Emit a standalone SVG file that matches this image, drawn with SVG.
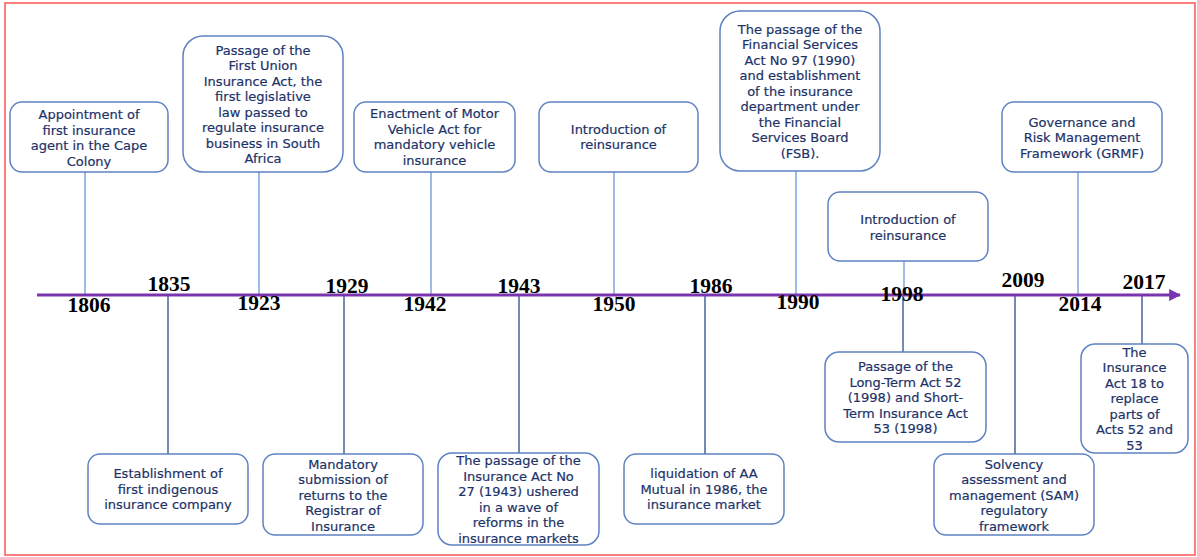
<svg xmlns="http://www.w3.org/2000/svg" width="1197" height="557" viewBox="0 0 1197 557">
<defs>
<marker id="arr" viewBox="0 0 10 10" refX="9" refY="5" markerWidth="4" markerHeight="4" markerUnits="strokeWidth" orient="auto">
<path d="M0,0 L10,5 L0,10 z" fill="#7a34b0"/>
</marker>
<style>
.box{fill:#fff;stroke:#5f83c2;stroke-width:1.5}
.t{font-family:"DejaVu Sans",sans-serif;font-size:13px;fill:#1c3268;stroke:#1c3268;stroke-width:0.2;text-anchor:middle}
.yr{font-family:"Liberation Serif",serif;font-weight:bold;font-size:20px;fill:#000;text-anchor:middle}
.up{stroke:#7ea6dc;stroke-width:1.5}
.dn{stroke:#44649a;stroke-width:1.5}
</style>
</defs>
<rect x="5" y="3" width="1190" height="552" fill="#fff" stroke="#ff5555" stroke-width="1.5"/>

<g id="connectors">
<line class="up" x1="85" y1="172" x2="85" y2="295"/>
<line class="up" x1="259" y1="172" x2="259" y2="295"/>
<line class="up" x1="431" y1="172" x2="431" y2="295"/>
<line class="up" x1="614" y1="172" x2="614" y2="295"/>
<line class="up" x1="796" y1="171" x2="796" y2="295"/>
<line class="up" x1="904" y1="261" x2="904" y2="295"/>
<line class="up" x1="1078" y1="172" x2="1078" y2="295"/>
<line class="dn" x1="168" y1="295" x2="168" y2="454"/>
<line class="dn" x1="344" y1="295" x2="344" y2="454"/>
<line class="dn" x1="519" y1="295" x2="519" y2="453"/>
<line class="dn" x1="705" y1="295" x2="705" y2="454"/>
<line class="dn" x1="903" y1="295" x2="903" y2="352"/>
<line class="dn" x1="1015" y1="295" x2="1015" y2="454"/>
<line class="dn" x1="1142" y1="295" x2="1142" y2="344"/>
</g>

<g id="timeline">
<line x1="37" y1="295" x2="1180" y2="295" stroke="#7a34b0" stroke-width="3" marker-end="url(#arr)"/>
</g>

<g id="years">
<text class="yr" x="89" y="312" textLength="43" lengthAdjust="spacingAndGlyphs">1806</text>
<text class="yr" x="169" y="291" textLength="43" lengthAdjust="spacingAndGlyphs">1835</text>
<text class="yr" x="259" y="310" textLength="43" lengthAdjust="spacingAndGlyphs">1923</text>
<text class="yr" x="347" y="293" textLength="43" lengthAdjust="spacingAndGlyphs">1929</text>
<text class="yr" x="425" y="311" textLength="43" lengthAdjust="spacingAndGlyphs">1942</text>
<text class="yr" x="519" y="293" textLength="43" lengthAdjust="spacingAndGlyphs">1943</text>
<text class="yr" x="614" y="311" textLength="43" lengthAdjust="spacingAndGlyphs">1950</text>
<text class="yr" x="711" y="293" textLength="43" lengthAdjust="spacingAndGlyphs">1986</text>
<text class="yr" x="798" y="309" textLength="43" lengthAdjust="spacingAndGlyphs">1990</text>
<text class="yr" x="902" y="301" textLength="43" lengthAdjust="spacingAndGlyphs">1998</text>
<text class="yr" x="1023" y="287" textLength="43" lengthAdjust="spacingAndGlyphs">2009</text>
<text class="yr" x="1080" y="311" textLength="43" lengthAdjust="spacingAndGlyphs">2014</text>
<text class="yr" x="1144" y="289" textLength="43" lengthAdjust="spacingAndGlyphs">2017</text>
</g>

<g id="n1806">
<rect class="box" x="10" y="102" width="158" height="70" rx="12"/>
<text class="t" x="89" y="119">Appointment of</text>
<text class="t" x="89" y="134.5">first insurance</text>
<text class="t" x="89" y="150">agent in the Cape</text>
<text class="t" x="89" y="165.5">Colony</text>
</g>

<g id="n1923">
<rect class="box" x="183" y="36" width="160" height="136" rx="20"/>
<text class="t" x="263" y="54.5">Passage of the</text>
<text class="t" x="263" y="70">First Union</text>
<text class="t" x="263" y="85.5">Insurance Act, the</text>
<text class="t" x="263" y="101">first legislative</text>
<text class="t" x="263" y="116.5">law passed to</text>
<text class="t" x="263" y="132">regulate insurance</text>
<text class="t" x="263" y="147.5">business in South</text>
<text class="t" x="263" y="163">Africa</text>
</g>

<g id="n1942">
<rect class="box" x="354" y="102" width="161" height="70" rx="12"/>
<text class="t" x="434.5" y="118">Enactment of Motor</text>
<text class="t" x="434.5" y="133.5">Vehicle Act for</text>
<text class="t" x="434.5" y="149">mandatory vehicle</text>
<text class="t" x="434.5" y="164.5">insurance</text>
</g>

<g id="n1950">
<rect class="box" x="539" y="102" width="159" height="70" rx="12"/>
<text class="t" x="618.5" y="133.5">Introduction of</text>
<text class="t" x="618.5" y="149">reinsurance</text>
</g>

<g id="n1990">
<rect class="box" x="720" y="11" width="160" height="160" rx="20"/>
<text class="t" x="800" y="33.5">The passage of the</text>
<text class="t" x="800" y="49">Financial Services</text>
<text class="t" x="800" y="64.5">Act No 97 (1990)</text>
<text class="t" x="800" y="80">and establishment</text>
<text class="t" x="800" y="95.5">of the insurance</text>
<text class="t" x="800" y="111">department under</text>
<text class="t" x="800" y="126.5">the Financial</text>
<text class="t" x="800" y="142">Services Board</text>
<text class="t" x="800" y="157.5">(FSB).</text>
</g>

<g id="n1998top">
<rect class="box" x="828" y="192" width="160" height="69" rx="12"/>
<text class="t" x="908" y="224">Introduction of</text>
<text class="t" x="908" y="239.5">reinsurance</text>
</g>

<g id="n2014">
<rect class="box" x="1002" y="102" width="160" height="70" rx="12"/>
<text class="t" x="1082" y="126.5">Governance and</text>
<text class="t" x="1082" y="142">Risk Management</text>
<text class="t" x="1082" y="157.5">Framework (GRMF)</text>
</g>

<g id="n1835">
<rect class="box" x="88" y="454" width="160" height="70" rx="12"/>
<text class="t" x="168" y="478">Establishment of</text>
<text class="t" x="168" y="493.5">first indigenous</text>
<text class="t" x="168" y="509">insurance company</text>
</g>

<g id="n1929">
<rect class="box" x="263" y="454" width="160" height="81" rx="12"/>
<text class="t" x="343" y="468.5">Mandatory</text>
<text class="t" x="343" y="484">submission of</text>
<text class="t" x="343" y="499.5">returns to the</text>
<text class="t" x="343" y="515">Registrar of</text>
<text class="t" x="343" y="530.5">Insurance</text>
</g>

<g id="n1943">
<rect class="box" x="438" y="453" width="161" height="92" rx="14"/>
<text class="t" x="518.5" y="465">The passage of the</text>
<text class="t" x="518.5" y="480.5">Insurance Act No</text>
<text class="t" x="518.5" y="496">27 (1943) ushered</text>
<text class="t" x="518.5" y="511.5">in a wave of</text>
<text class="t" x="518.5" y="527">reforms in the</text>
<text class="t" x="518.5" y="542.5">insurance markets</text>
</g>

<g id="n1986">
<rect class="box" x="624" y="454" width="160" height="70" rx="12"/>
<text class="t" x="704" y="478">liquidation of AA</text>
<text class="t" x="704" y="493.5">Mutual in 1986, the</text>
<text class="t" x="704" y="509">insurance market</text>
</g>

<g id="n1998bottom">
<rect class="box" x="825" y="352" width="161" height="90" rx="14"/>
<text class="t" x="905.5" y="371">Passage of the</text>
<text class="t" x="905.5" y="386.5">Long-Term Act 52</text>
<text class="t" x="905.5" y="402">(1998) and Short-</text>
<text class="t" x="905.5" y="417.5">Term Insurance Act</text>
<text class="t" x="905.5" y="433">53 (1998)</text>
</g>

<g id="n2009">
<rect class="box" x="934" y="454" width="160" height="81" rx="12"/>
<text class="t" x="1014" y="468.5">Solvency</text>
<text class="t" x="1014" y="484">assessment and</text>
<text class="t" x="1014" y="499.5">management (SAM)</text>
<text class="t" x="1014" y="515">regulatory</text>
<text class="t" x="1014" y="530.5">framework</text>
</g>

<g id="n2017">
<rect class="box" x="1081" y="344" width="107" height="109" rx="14"/>
<text class="t" x="1134.5" y="356.5">The</text>
<text class="t" x="1134.5" y="372">Insurance</text>
<text class="t" x="1134.5" y="387.5">Act 18 to</text>
<text class="t" x="1134.5" y="403">replace</text>
<text class="t" x="1134.5" y="418.5">parts of</text>
<text class="t" x="1134.5" y="434">Acts 52 and</text>
<text class="t" x="1134.5" y="449.5">53</text>
</g>
</svg>
